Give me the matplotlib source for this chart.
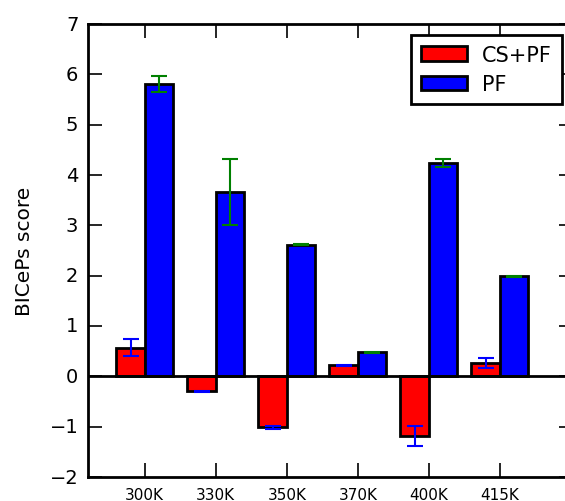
import matplotlib
matplotlib.use("Agg")
import matplotlib.pyplot as plt
import numpy as np

plt.style.use('classic')
plt.rcParams['font.family'] = ['DejaVu Sans']

categories = ["300K", "330K", "350K", "370K", "400K", "415K"]
cspf_values = [0.57, -0.30, -1.01, 0.22, -1.19, 0.26]
cspf_errors = [0.17, 0.01, 0.03, 0.01, 0.20, 0.10]
pf_values = [5.80, 3.66, 2.61, 0.48, 4.23, 1.99]
pf_errors = [0.16, 0.66, 0.01, 0.01, 0.08, 0.01]

width = 0.4
ind = np.arange(len(categories))

fig = plt.figure(figsize=(5.65, 5.02), dpi=100)
ax = fig.add_axes([88/565, 1-478/502, (573-88)/565, (478-25)/502])

ax.bar(ind, cspf_values, width, align='edge', color='red', edgecolor='black',
       linewidth=2, label='CS+PF', zorder=2)
ax.bar(ind + width, pf_values, width, align='edge', color='blue', edgecolor='black',
       linewidth=2, label='PF', zorder=2)
ax.errorbar(ind + width/2, cspf_values, yerr=cspf_errors, fmt='none', ecolor='blue',
            elinewidth=1.5, capsize=5.5, capthick=1.5, zorder=3)
ax.errorbar(ind + 1.5*width, pf_values, yerr=pf_errors, fmt='none', ecolor='green',
            elinewidth=1.5, capsize=5.5, capthick=1.5, zorder=3)
ax.axhline(0, color='black', linewidth=2, zorder=4)

ax.set_xlim(-0.40, 6.43)
ax.set_ylim(-2, 7)
ax.set_xticks(ind + width)
ax.set_xticklabels(categories, fontsize=11)
ax.set_yticks(np.arange(-2, 8, 1))
ax.tick_params(axis='y', labelsize=14, pad=7)
ax.tick_params(axis='x', pad=7)
ax.tick_params(which='major', length=10, width=1.2, direction='in', top=True, right=True)
for s in ax.spines.values():
    s.set_linewidth(2)
ax.set_ylabel('BICePs score', fontsize=14.5, labelpad=11.5)

leg = ax.legend(loc='upper right', fontsize=15, borderaxespad=0.55,
                handlelength=2.2, handleheight=0.7, handletextpad=0.75,
                borderpad=0.45, labelspacing=0.45)
leg.get_frame().set_linewidth(2)

fig.savefig('out.png', dpi=100)
